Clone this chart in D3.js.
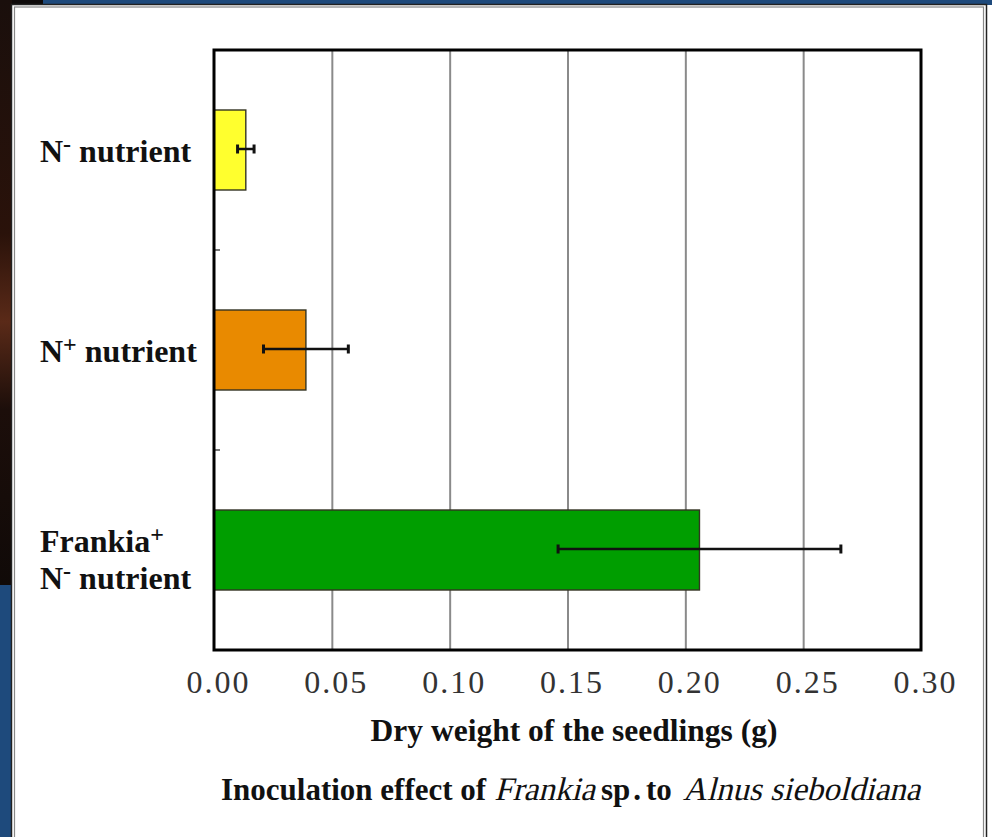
<!DOCTYPE html>
<html>
<head>
<meta charset="utf-8">
<script src="https://cdn.jsdelivr.net/npm/d3@7"></script>
<style>
  html, body { margin: 0; padding: 0; background: #ffffff; }
  svg { display: block; }
</style>
</head>
<body>
<svg id="chart" width="992" height="837"></svg>
<script>
// Treatment groups (^ marks a superscript sign, | a line break)
const categories = ["N^- nutrient", "N^+ nutrient", "Frankia^+|N^- nutrient"];
// Mean dry weight (g) and standard error for each group
const values = [0.0135, 0.039, 0.206];
const errors = [0.0035, 0.018, 0.06];
const barColors = ["#ffff2e", "#e98a00", "#009e00"];
const xTicks = [0, 0.05, 0.10, 0.15, 0.20, 0.25, 0.30];
const xTitle = "Dry weight of the seedlings (g)";
const caption = [
  { t: "Inoculation effect of", style: "bold", gap: 8 },
  { t: "Frankia", style: "italic", gap: 6 },
  { t: "sp", style: "bold", gap: 3 },
  { t: ".", style: "bold", gap: 5 },
  { t: "to", style: "bold", gap: 11 },
  { t: "Alnus sieboldiana", style: "italic", gap: 0 }
];

const svg = d3.select("#chart");
const serif = "'Liberation Serif', 'Times New Roman', serif";

// ---- page backdrop: slide frame around the white panel ----
const defs = svg.append("defs");
const grad = defs.append("linearGradient").attr("id", "strip").attr("x1", 0).attr("x2", 0).attr("y1", 0).attr("y2", 1);
grad.append("stop").attr("offset", "0%").attr("stop-color", "#1a0f0c");
grad.append("stop").attr("offset", "40%").attr("stop-color", "#2a120a");
grad.append("stop").attr("offset", "55%").attr("stop-color", "#5a2a18");
grad.append("stop").attr("offset", "70%").attr("stop-color", "#1c0e0a");
grad.append("stop").attr("offset", "100%").attr("stop-color", "#100a08");

svg.append("rect").attr("x", 0).attr("y", 0).attr("width", 992).attr("height", 5).attr("fill", "#1e4a7c");
svg.append("rect").attr("x", 0).attr("y", 0).attr("width", 43).attr("height", 5).attr("fill", "#0e0a0a");
svg.append("rect").attr("x", 0).attr("y", 0).attr("width", 12).attr("height", 585).attr("fill", "url(#strip)");
svg.append("rect").attr("x", 0).attr("y", 585).attr("width", 12).attr("height", 252).attr("fill", "#1e4a7c");

// white panel with double border
svg.append("rect").attr("x", 11.5).attr("y", 4.5).attr("width", 975).attr("height", 840)
  .attr("fill", "#ffffff").attr("stroke", "#222").attr("stroke-width", 1.5);
svg.append("rect").attr("x", 14.5).attr("y", 7).attr("width", 969).attr("height", 840)
  .attr("fill", "none").attr("stroke", "#888").attr("stroke-width", 1.2);

// ---- scales ----
const x = d3.scaleLinear().domain([0, 0.30]).range([214, 921]);
const y = d3.scaleBand().domain(categories).range([50, 650]).paddingInner(0.6).paddingOuter(0.3);
const [plotTop, plotBottom] = y.range();

// vertical grid lines from the axis ticks
const grid = svg.append("g")
  .attr("transform", `translate(0,${plotBottom})`)
  .call(d3.axisBottom(x).tickValues(xTicks.slice(1, -1)).tickSize(-(plotBottom - plotTop)).tickFormat(""));
grid.select(".domain").remove();
grid.selectAll("line").attr("stroke", "#8a8a8a").attr("stroke-width", 2);

// category separator ticks on the left axis
const sep = categories.slice(1).map((c, i) => (y(categories[i]) + y.bandwidth() + y(c)) / 2);
svg.append("g").selectAll("line").data(sep).join("line")
  .attr("x1", x(0)).attr("x2", x(0) + 6).attr("y1", d => d).attr("y2", d => d)
  .attr("stroke", "#777").attr("stroke-width", 2);

// bars
svg.append("g").selectAll("rect").data(categories).join("rect")
  .attr("x", x(0))
  .attr("y", d => y(d))
  .attr("width", (d, i) => x(values[i]) - x(0))
  .attr("height", y.bandwidth())
  .attr("fill", (d, i) => barColors[i])
  .attr("stroke", "#333322").attr("stroke-width", 1.4);

// error bars
const eb = svg.append("g").attr("stroke", "#111").attr("stroke-width", 2.5);
categories.forEach((c, i) => {
  const cy = y(c) + y.bandwidth() / 2 - 1;
  const lo = x(values[i] - errors[i]), hi = x(values[i] + errors[i]);
  eb.append("line").attr("x1", lo).attr("x2", hi).attr("y1", cy).attr("y2", cy);
  eb.append("line").attr("x1", lo).attr("x2", lo).attr("y1", cy - 4.5).attr("y2", cy + 4.5).attr("stroke-width", 3);
  eb.append("line").attr("x1", hi).attr("x2", hi).attr("y1", cy - 4.5).attr("y2", cy + 4.5).attr("stroke-width", 3);
});

// plot frame
svg.append("rect").attr("x", x(0)).attr("y", plotTop).attr("width", x(0.30) - x(0)).attr("height", plotBottom - plotTop)
  .attr("fill", "none").attr("stroke", "#000").attr("stroke-width", 3);

// x tick labels
const xAxis = svg.append("g")
  .attr("transform", `translate(0,${plotBottom})`)
  .call(d3.axisBottom(x).tickValues(xTicks).tickSize(0).tickPadding(0).tickFormat(d3.format(".2f")));
xAxis.select(".domain").remove();
xAxis.selectAll("text")
  .attr("y", 43).attr("dy", null)
  .attr("dx", 4)
  .attr("font-family", serif).attr("font-size", 32).attr("letter-spacing", 2)
  .attr("fill", "#333");

// category labels with superscript signs
categories.forEach(c => {
  const lines = c.split("|");
  const cy = y(c) + y.bandwidth() / 2;
  const base = lines.length > 1 ? cy + 2 : cy + 12;
  lines.forEach((line, li) => {
    const t = svg.append("text")
      .attr("x", 40).attr("y", base + li * 37)
      .attr("font-family", serif).attr("font-weight", "bold").attr("font-size", 32).attr("fill", "#111");
    const m = line.match(/^(.*?)\^([+-])(.*)$/);
    t.append("tspan").text(m[1]);
    t.append("tspan").attr("dy", -10).attr("font-size", 24).text(m[2] === "-" ? "-" : "+");
    t.append("tspan").attr("dy", 10).text(m[3]);
  });
});

// axis title
svg.append("text")
  .attr("x", 574).attr("y", 741)
  .attr("text-anchor", "middle")
  .attr("font-family", serif).attr("font-weight", "bold").attr("font-size", 31.5).attr("fill", "#111")
  .text(xTitle);

// caption: pieces laid out left to right, italic parts slanted
let cx = 221;
const capY = 800;
caption.forEach(p => {
  const t = svg.append("text")
    .attr("font-family", serif).attr("fill", "#111")
    .text(p.t);
  if (p.style === "bold") {
    t.attr("font-weight", "bold").attr("font-size", 31).attr("x", cx).attr("y", capY);
  } else {
    t.attr("font-size", 33).attr("transform", `translate(${cx},${capY}) skewX(-14)`);
  }
  cx += t.node().getComputedTextLength() + p.gap;
});
</script>
</body>
</html>
